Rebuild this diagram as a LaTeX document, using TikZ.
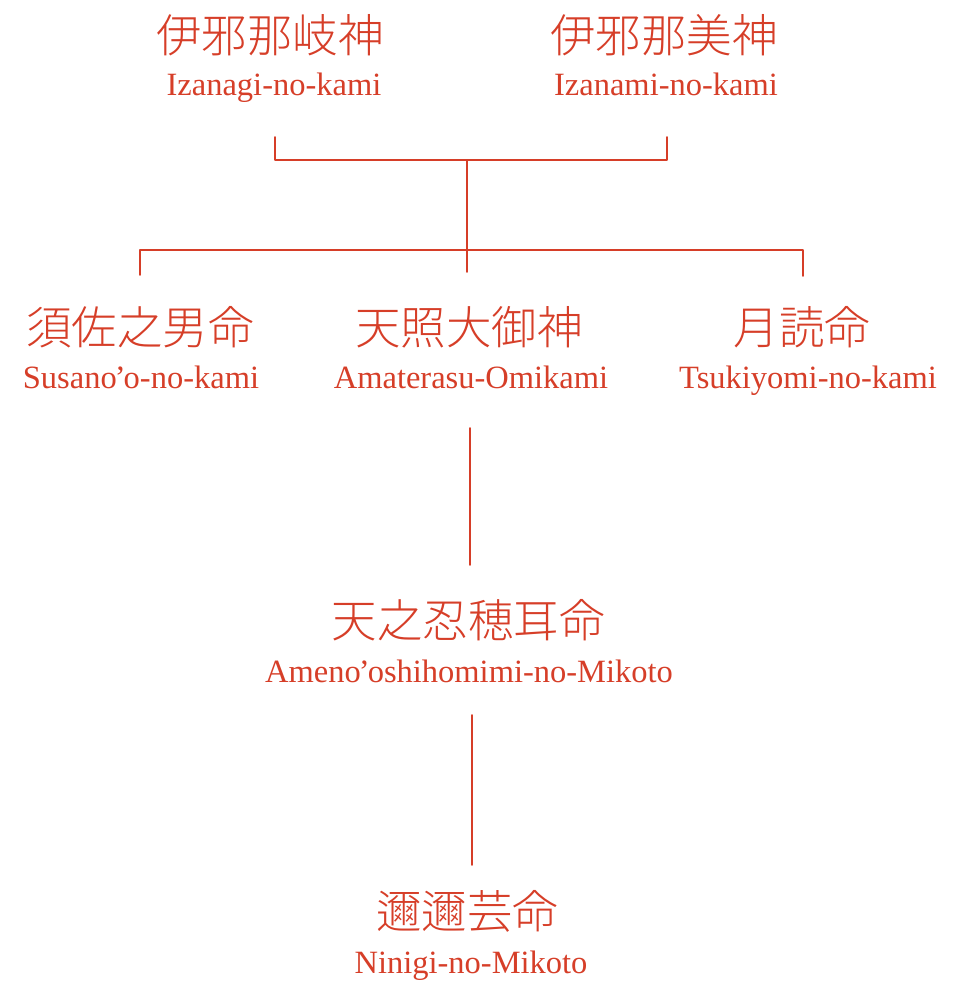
\documentclass[tikz,border=0pt]{standalone}
\usepackage{fontspec}
\newfontfamily\cjk{Noto Sans CJK JP Light}
\newfontfamily\latn{Liberation Serif}
\definecolor{ink}{RGB}{214,62,40}
\newcommand{\apos}{\kern-0.06em’\kern-0.06em}
\tikzset{
  cjkname/.style={text=ink, font=\cjk\fontsize{45.5}{50}\selectfont, inner sep=0pt},
  latname/.style={text=ink, font=\latn\fontsize{32.5}{36}\selectfont, inner sep=0pt, anchor=base},
  conn/.style={draw=ink, line width=1.6pt, line cap=round, line join=round}
}
\begin{document}
\begin{tikzpicture}[x=1pt,y=-1pt]
\useasboundingbox (0,0) rectangle (962,982);
% top row
\node[cjkname] (izanagiJ) at (270,35) {伊邪那岐神};
\node[latname] (izanagiL) at (274,95) {Izanagi-no-kami};
\node[cjkname] (izanamiJ) at (664,35) {伊邪那美神};
\node[latname] (izanamiL) at (666,95) {Izanami-no-kami};
% second row
\node[cjkname] (susanoJ) at (140,327) {須佐之男命};
\node[latname] (susanoL) at (141,388) {Susano\apos o-no-kami};
\node[cjkname] (amaterasuJ) at (469,327) {天照大御神};
\node[latname] (amaterasuL) at (471,388) {Amaterasu-Omikami};
\node[cjkname] (tsukiyomiJ) at (802,327) {月読命};
\node[latname] (tsukiyomiL) at (808,388) {Tsukiyomi-no-kami};
% third row
\node[cjkname] (oshihoJ) at (468,620) {天之忍穂耳命};
\node[latname] (oshihoL) at (469,682) {Ameno\apos oshihomimi-no-Mikoto};
% fourth row
\node[cjkname] (niniJ) at (467,911) {邇邇芸命};
\node[latname] (niniL) at (471,973) {Ninigi-no-Mikoto};
% connector points
\coordinate (tl) at (275,137);
\coordinate (tr) at (667,137);
\coordinate (tm) at (467,160);
\coordinate (bj) at (467,250);
\coordinate (bm) at (467,272);
\coordinate (bl) at (140,275);
\coordinate (br) at (803,276);
\coordinate (a1) at (470,428);
\coordinate (a2) at (470,565);
\coordinate (b1) at (472,715);
\coordinate (b2) at (472,865);
\draw[conn] (tl) |- (tm) -| (tr);
\draw[conn] (tm) -- (bm);
\draw[conn] (bl) |- (bj) -| (br);
\draw[conn] (a1) -- (a2);
\draw[conn] (b1) -- (b2);
\end{tikzpicture}
\end{document}
